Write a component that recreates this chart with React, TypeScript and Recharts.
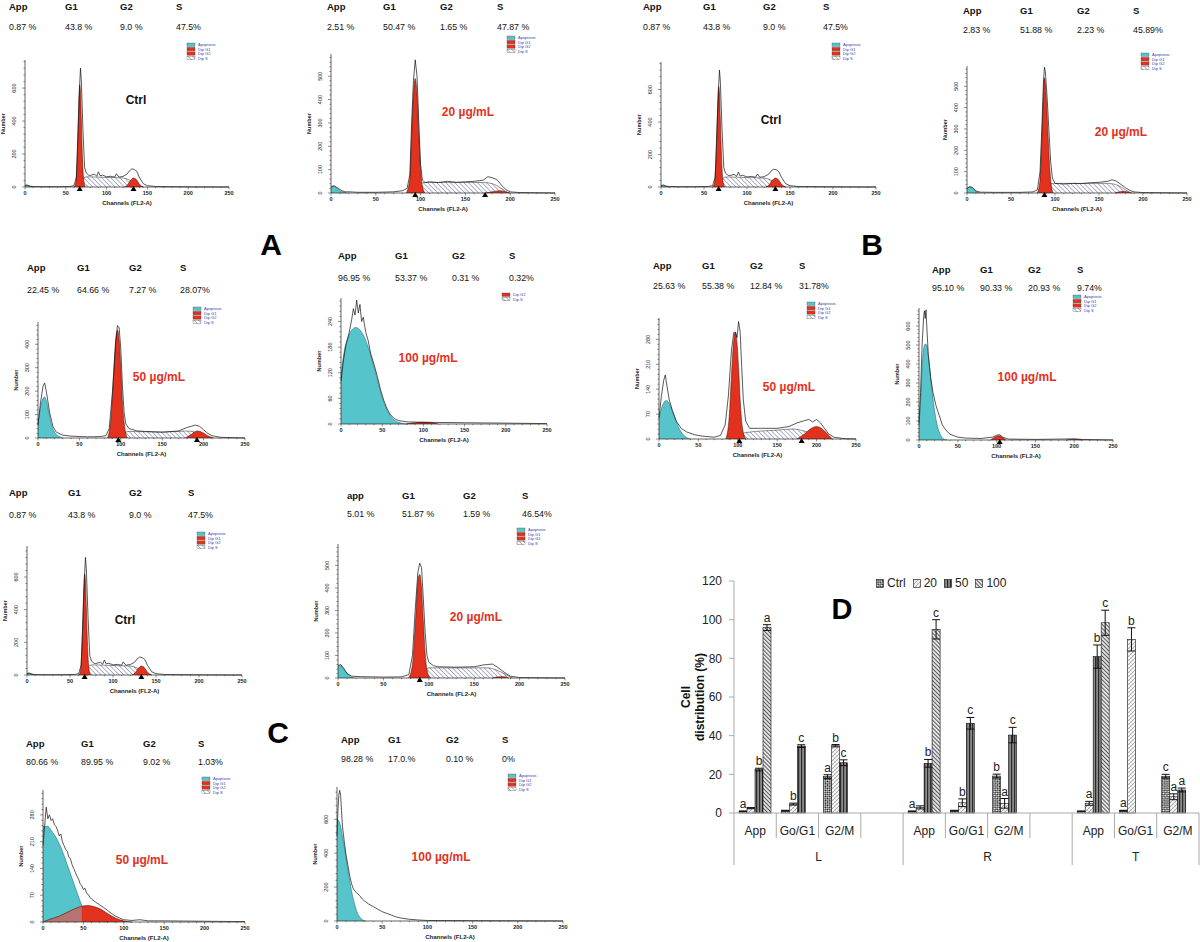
import React from "react";
import {
  ComposedChart,
  Area,
  Line,
  Scatter,
  XAxis,
  YAxis,
  BarChart,
  Bar,
  ErrorBar,
} from "recharts";

type P = [number, number];

const FONT = "'Liberation Sans', Arial, Helvetica, sans-serif";
const CYAN = "#55c4cb";
const RED = "#e2311d";

// ---------- flow cytometry histograms (channel, count) ----------
const ctrlRaw: P[] = [[0, 10], [3, 12], [6, 5], [10, 3], [20, 2], [40, 2], [55, 3], [60, 8], [63, 60], [65, 350], [67, 620], [68, 720], [69, 650], [71, 350], [73, 120], [75, 85], [78, 72], [80, 70], [85, 78], [88, 66], [90, 92], [92, 68], [95, 72], [100, 62], [105, 65], [110, 60], [112, 80], [115, 60], [120, 64], [125, 78], [128, 98], [131, 110], [134, 106], [137, 95], [140, 60], [145, 20], [150, 8], [160, 3], [200, 1], [250, 0]];
const ctrlApop: P[] = [[0, 8], [2, 10], [5, 6], [9, 0]];
const ctrlG1: P[] = [[60, 0], [62, 20], [64, 180], [65, 330], [66, 520], [67, 620], [68, 580], [69, 420], [70, 240], [71, 110], [72, 40], [74, 0]];
const ctrlG2: P[] = [[122, 0], [126, 15], [129, 38], [133, 55], [137, 42], [140, 18], [145, 0]];
const ctrlS: P[] = [[63, 0], [68, 25], [72, 55], [76, 62], [100, 58], [120, 55], [127, 45], [134, 25], [140, 8], [145, 0]];

const a20Raw: P[] = [[0, 28], [4, 30], [8, 20], [12, 10], [16, 5], [20, 5], [25, 4], [30, 3], [50, 3], [70, 5], [80, 10], [85, 20], [88, 80], [90, 300], [92, 480], [94, 570], [96, 500], [98, 300], [100, 120], [102, 55], [105, 45], [110, 48], [120, 45], [130, 50], [140, 46], [150, 48], [160, 50], [170, 55], [175, 70], [180, 65], [185, 58], [190, 35], [195, 15], [200, 5], [210, 2], [250, 0]];
const a20Apop: P[] = [[0, 25], [3, 30], [6, 22], [10, 10], [14, 3], [18, 0]];
const a20G1: P[] = [[84, 0], [88, 60], [90, 250], [92, 420], [94, 490], [96, 420], [98, 250], [100, 100], [102, 30], [105, 0]];
const a20S: P[] = [[88, 0], [95, 20], [100, 40], [105, 45], [170, 45], [180, 40], [190, 20], [198, 0]];
const a20G2: P[] = [[172, 0], [180, 5], [188, 10], [195, 5], [200, 0]];

const a50Raw: P[] = [[0, 55], [3, 150], [6, 220], [8, 235], [10, 200], [14, 110], [18, 50], [22, 25], [30, 12], [40, 8], [60, 5], [75, 6], [82, 10], [86, 40], [90, 200], [94, 420], [96, 480], [98, 470], [100, 380], [102, 220], [104, 110], [106, 60], [110, 40], [120, 30], [130, 28], [150, 25], [170, 30], [180, 45], [190, 55], [195, 50], [200, 35], [205, 20], [210, 10], [220, 3], [250, 0]];
const a50Apop: P[] = [[0, 60], [2, 110], [5, 160], [8, 175], [10, 160], [13, 110], [16, 60], [20, 25], [25, 8], [30, 0]];
const a50G1: P[] = [[84, 0], [88, 80], [91, 250], [94, 420], [96, 460], [98, 420], [100, 300], [102, 150], [105, 40], [108, 0]];
const a50S: P[] = [[88, 0], [100, 15], [110, 28], [150, 25], [180, 30], [195, 18], [205, 0]];
const a50G2: P[] = [[178, 0], [185, 15], [192, 30], [198, 25], [205, 10], [212, 0]];

const a100Raw: P[] = [[0, 100], [3, 150], [6, 185], [10, 215], [13, 245], [15, 270], [17, 255], [19, 290], [21, 260], [23, 280], [25, 240], [27, 250], [30, 215], [33, 195], [36, 165], [40, 140], [44, 112], [48, 80], [52, 55], [56, 35], [60, 22], [65, 12], [70, 8], [80, 5], [100, 4], [150, 3], [200, 2], [250, 1]];
const a100Apop: P[] = [[0, 110], [3, 160], [8, 200], [13, 220], [18, 226], [22, 222], [28, 205], [33, 180], [38, 148], [43, 112], [48, 75], [53, 45], [58, 25], [63, 12], [70, 4], [78, 0]];
const a100G2: P[] = [[78, 0], [90, 3], [100, 4], [110, 3], [118, 0]];

const b20Raw: P[] = [[0, 22], [3, 30], [6, 26], [10, 10], [15, 4], [30, 3], [60, 3], [75, 5], [80, 15], [83, 100], [85, 300], [87, 530], [88, 590], [89, 570], [91, 450], [93, 300], [95, 150], [97, 70], [100, 45], [110, 42], [120, 45], [130, 44], [140, 48], [150, 50], [160, 55], [165, 62], [170, 55], [175, 40], [180, 25], [185, 12], [190, 5], [200, 2], [250, 0]];
const b20Apop: P[] = [[0, 20], [3, 28], [6, 25], [9, 12], [12, 3], [15, 0]];
const b20G1: P[] = [[80, 0], [83, 60], [85, 250], [87, 480], [88, 540], [90, 450], [92, 280], [94, 120], [96, 30], [98, 0]];
const b20S: P[] = [[84, 0], [92, 30], [97, 45], [160, 45], [172, 35], [180, 15], [186, 0]];
const b20G2: P[] = [[168, 0], [174, 6], [178, 8], [183, 4], [188, 0]];

const b50Raw: P[] = [[0, 60], [3, 120], [6, 165], [8, 180], [10, 150], [13, 110], [17, 80], [22, 50], [28, 30], [35, 20], [45, 12], [55, 8], [70, 5], [78, 10], [84, 40], [88, 120], [92, 250], [95, 300], [97, 300], [99, 285], [101, 330], [103, 300], [105, 200], [107, 110], [110, 50], [115, 30], [130, 30], [150, 30], [165, 35], [175, 45], [185, 52], [190, 55], [195, 48], [200, 55], [205, 45], [210, 30], [215, 15], [222, 5], [235, 1], [250, 0]];
const b50Apop: P[] = [[0, 60], [3, 85], [6, 102], [9, 108], [12, 104], [15, 90], [20, 60], [25, 32], [30, 14], [35, 4], [40, 0]];
const b50G1: P[] = [[85, 0], [89, 60], [92, 180], [95, 280], [97, 300], [99, 270], [101, 200], [103, 110], [106, 30], [110, 0]];
const b50S: P[] = [[88, 0], [100, 10], [110, 18], [150, 25], [170, 28], [185, 22], [200, 12], [212, 0]];
const b50G2: P[] = [[175, 0], [185, 15], [192, 28], [200, 35], [206, 30], [212, 18], [220, 0]];

const b100Raw: P[] = [[0, 90], [2, 250], [4, 500], [6, 650], [7, 680], [8, 640], [9, 685], [10, 600], [12, 450], [15, 330], [18, 250], [22, 180], [26, 130], [30, 80], [35, 50], [40, 30], [50, 15], [60, 10], [80, 8], [95, 15], [100, 25], [104, 28], [108, 15], [115, 5], [150, 3], [200, 6], [210, 3], [250, 0]];
const b100Apop: P[] = [[0, 80], [2, 200], [4, 380], [6, 480], [8, 505], [10, 500], [12, 440], [15, 330], [18, 220], [21, 130], [24, 70], [28, 25], [32, 5], [36, 0]];
const b100G1: P[] = [[92, 0], [96, 10], [100, 20], [104, 22], [108, 12], [112, 0]];
const b100G2: P[] = [[190, 0], [200, 4], [210, 0]];

const c20Raw: P[] = [[0, 55], [3, 60], [6, 45], [10, 20], [15, 8], [25, 6], [50, 4], [70, 5], [78, 15], [82, 100], [85, 300], [88, 470], [90, 510], [92, 490], [94, 350], [96, 200], [98, 100], [100, 70], [105, 55], [110, 50], [130, 48], [150, 50], [160, 58], [165, 60], [170, 62], [175, 50], [180, 35], [185, 20], [190, 8], [200, 2], [250, 0]];
const c20Apop: P[] = [[0, 50], [3, 55], [6, 40], [10, 20], [14, 5], [18, 0]];
const c20G1: P[] = [[78, 0], [82, 60], [85, 230], [88, 430], [90, 460], [92, 400], [94, 250], [96, 110], [99, 20], [102, 0]];
const c20S: P[] = [[80, 0], [90, 20], [96, 35], [100, 45], [165, 45], [175, 35], [185, 15], [192, 0]];
const c20G2: P[] = [[170, 0], [176, 5], [182, 6], [188, 0]];

const c50Raw: P[] = [[0, 200], [2, 250], [4, 300], [6, 270], [8, 280], [10, 265], [12, 270], [14, 255], [16, 250], [18, 240], [20, 225], [22, 230], [24, 210], [26, 200], [28, 190], [30, 185], [32, 170], [34, 165], [36, 150], [38, 140], [40, 130], [42, 120], [44, 112], [46, 100], [48, 95], [50, 85], [52, 88], [54, 75], [56, 72], [58, 65], [60, 60], [65, 52], [70, 45], [75, 38], [80, 30], [85, 22], [90, 15], [95, 10], [100, 6], [110, 4], [120, 6], [130, 3], [150, 3], [200, 2], [250, 1]];
const c50Apop: P[] = [[0, 250], [3, 250], [6, 250], [10, 240], [15, 225], [20, 205], [25, 180], [30, 150], [35, 120], [40, 90], [45, 60], [50, 35], [55, 18], [60, 8], [70, 2], [80, 0]];
const c50G1: P[] = [[0, 0], [10, 8], [20, 15], [30, 25], [40, 35], [50, 42], [55, 43], [60, 42], [70, 35], [80, 22], [90, 10], [100, 3], [110, 0]];
const c50G1Under: P[] = [[0, 0], [10, 8], [20, 15], [30, 25], [40, 35], [48, 41]];

const c100Raw: P[] = [[0, 500], [1, 650], [2, 740], [3, 770], [4, 740], [5, 650], [6, 560], [8, 470], [10, 390], [12, 330], [14, 270], [16, 220], [18, 190], [20, 175], [22, 165], [25, 150], [28, 130], [30, 120], [35, 100], [40, 85], [45, 70], [50, 55], [55, 45], [60, 35], [65, 25], [70, 18], [80, 10], [90, 6], [100, 3], [150, 2], [250, 0]];
const c100Apop: P[] = [[0, 600], [2, 590], [4, 560], [6, 500], [8, 440], [10, 370], [12, 300], [14, 240], [16, 180], [18, 130], [20, 90], [22, 55], [25, 25], [28, 8], [32, 0]];

// header labels / values
const hdrLabels = ["App", "G1", "G2", "S"];
const hdrLabelsLower = ["app", "G1", "G2", "S"];
const ctrlPct = ["0.87 %", "43.8 %", "9.0 %", "47.5%"];
const a20Pct = ["2.51 %", "50.47 %", "1.65 %", "47.87 %"];
const a50Pct = ["22.45 %", "64.66 %", "7.27 %", "28.07%"];
const a100Pct = ["96.95 %", "53.37 %", "0.31 %", "0.32%"];
const b20Pct = ["2.83 %", "51.88 %", "2.23 %", "45.89%"];
const b50Pct = ["25.63 %", "55.38 %", "12.84 %", "31.78%"];
const b100Pct = ["95.10 %", "90.33 %", "20.93 %", "9.74%"];
const c20Pct = ["5.01 %", "51.87 %", "1.59 %", "46.54%"];
const c50Pct = ["80.66 %", "89.95 %", "9.02 %", "1.03%"];
const c100Pct = ["98.28 %", "17.0.%", "0.10 %", "0%"];
const legendFull = ["Apoptosis", "Dip G1", "Dip G2", "Dip S"];
const legendShort = ["Dip G2", "Dip S"];

// ---------- bar chart D ----------
const groupNames = ["L", "R", "T"];
const groupSpans = [4, 4, 3];
const subCats = ["App", "Go/G1", "G2/M", "", "App", "Go/G1", "G2/M", "", "App", "Go/G1", "G2/M"];
const ctrlVals = [0.87, 1.2, 18.8, null, 0.87, 1.2, 19.1, null, 0.87, 1.2, 19.0];
const v20Vals = [2.51, 4.6, 34.8, null, 2.9, 5.3, 5.0, null, 5.0, 89.8, 8.4];
const v50Vals = [22.45, 34.6, 26.0, null, 25.7, 46.4, 40.3, null, 80.9, null, 11.9];
const v100Vals = [95.9, null, null, null, 95.0, null, null, null, 98.4, null, null];
const ctrlErr = [0.2, 0.2, 1.0, null, 0.2, 0.2, 1.0, null, 0.2, 0.2, 1.0];
const err20 = [0.3, 0.5, 0.6, null, 0.8, 2.0, 2.5, null, 1.0, 6.0, 1.5];
const err50 = [0.7, 0.7, 1.5, null, 2.0, 3.0, 4.0, null, 6.0, null, 1.0];
const err100 = [1.5, null, null, null, 5.0, null, null, null, 6.5, null, null];
const ctrlLet = ["a", "", "a", "", "a", "", "b", "", "", "a", "c"];
const let20 = ["", "b", "b", "", "", "b", "a", "", "a", "b", "a"];
const let50 = ["b", "c", "c", "", "b", "c", "c", "", "b", "", "a"];
const let100 = ["a", "", "", "", "c", "", "", "", "c", "", ""];
const yTicksD = [0, 20, 40, 60, 80, 100, 120];

const barRows = subCats.map((s, i) => ({
  key: `${i}-${s}`,
  ctrl: ctrlVals[i], c20: v20Vals[i], c50: v50Vals[i], c100: v100Vals[i],
  eCtrl: ctrlErr[i], e20: err20[i], e50: err50[i], e100: err100[i],
  lCtrl: ctrlLet[i], l20: let20[i], l50: let50[i], l100: let100[i],
}));

const toPts = (a?: P[]) => (a || []).map(([x, y]) => ({ x, y }));
const xTicksHist = Array.from({ length: 26 }, (_, i) => i * 10);

interface HistCfg {
  x0: number; x250: number; yBase: number; yTop: number; yMax: number; major: number;
  raw: P[]; apop?: P[]; g1?: P[]; g2?: P[]; s?: P[]; g1Under?: P[]; marks?: number[];
  labels: string[]; pct: string[]; hx: number[]; hy: number; vy: number;
  tag: string; tagColor: string; tx: number; ty: number;
  legend: string[]; lx: number; ly: number;
}

const panels: HistCfg[] = [
  { x0: 25, x250: 229, yBase: 187, yTop: 60, yMax: 770, major: 200, raw: ctrlRaw, apop: ctrlApop, g1: ctrlG1, g2: ctrlG2, s: ctrlS, marks: [67, 133],
    labels: hdrLabels, pct: ctrlPct, hx: [9, 65, 120, 176], hy: 6, vy: 27, tag: "Ctrl", tagColor: "#111", tx: 136, ty: 100, legend: legendFull, lx: 187, ly: 43 },
  { x0: 331, x250: 555, yBase: 193, yTop: 54, yMax: 595, major: 100, raw: a20Raw, apop: a20Apop, g1: a20G1, g2: a20G2, s: a20S, marks: [94, 172],
    labels: hdrLabels, pct: a20Pct, hx: [327, 383, 440, 497], hy: 6, vy: 27, tag: "20 µg/mL", tagColor: RED, tx: 468, ty: 112, legend: legendFull, lx: 507, ly: 36 },
  { x0: 38, x250: 245, yBase: 438, yTop: 322, yMax: 495, major: 100, raw: a50Raw, apop: a50Apop, g1: a50G1, g2: a50G2, s: a50S, marks: [97, 192],
    labels: hdrLabels, pct: a50Pct, hx: [27, 77, 129, 180], hy: 267, vy: 290, tag: "50 µg/mL", tagColor: RED, tx: 159, ty: 377, legend: legendFull, lx: 193, ly: 307 },
  { x0: 341, x250: 547, yBase: 424, yTop: 298, yMax: 295, major: 60, raw: a100Raw, apop: a100Apop, g2: a100G2,
    labels: hdrLabels, pct: a100Pct, hx: [338, 395, 452, 509], hy: 255, vy: 278, tag: "100 µg/mL", tagColor: RED, tx: 428, ty: 358, legend: legendShort, lx: 502, ly: 293 },
  { x0: 661, x250: 876, yBase: 187, yTop: 62, yMax: 770, major: 200, raw: ctrlRaw, apop: ctrlApop, g1: ctrlG1, g2: ctrlG2, s: ctrlS, marks: [67, 133],
    labels: hdrLabels, pct: ctrlPct, hx: [643, 703, 763, 823], hy: 6, vy: 27, tag: "Ctrl", tagColor: "#111", tx: 771, ty: 120, legend: legendFull, lx: 832, ly: 43 },
  { x0: 967, x250: 1187, yBase: 193, yTop: 66, yMax: 595, major: 100, raw: b20Raw, apop: b20Apop, g1: b20G1, g2: b20G2, s: b20S, marks: [88],
    labels: hdrLabels, pct: b20Pct, hx: [963, 1020, 1077, 1133], hy: 10, vy: 30, tag: "20 µg/mL", tagColor: RED, tx: 1121, ty: 132, legend: legendFull, lx: 1141, ly: 53 },
  { x0: 659, x250: 856, yBase: 439, yTop: 318, yMax: 340, major: 70, raw: b50Raw, apop: b50Apop, g1: b50G1, g2: b50G2, s: b50S, marks: [102, 181],
    labels: hdrLabels, pct: b50Pct, hx: [653, 702, 750, 799], hy: 265, vy: 286, tag: "50 µg/mL", tagColor: RED, tx: 789, ty: 387, legend: legendFull, lx: 807, ly: 302 },
  { x0: 919, x250: 1113, yBase: 440, yTop: 308, yMax: 695, major: 100, raw: b100Raw, apop: b100Apop, g1: b100G1, g2: b100G2, marks: [104],
    labels: hdrLabels, pct: b100Pct, hx: [932, 980, 1028, 1077], hy: 269, vy: 288, tag: "100 µg/mL", tagColor: RED, tx: 1027, ty: 377, legend: legendFull, lx: 1073, ly: 295 },
  { x0: 27, x250: 242, yBase: 675, yTop: 546, yMax: 790, major: 200, raw: ctrlRaw, apop: ctrlApop, g1: ctrlG1, g2: ctrlG2, s: ctrlS, marks: [67, 133],
    labels: hdrLabels, pct: ctrlPct, hx: [9, 68, 129, 188], hy: 492, vy: 515, tag: "Ctrl", tagColor: "#111", tx: 125, ty: 620, legend: legendFull, lx: 197, ly: 532 },
  { x0: 338, x250: 565, yBase: 678, yTop: 544, yMax: 595, major: 100, raw: c20Raw, apop: c20Apop, g1: c20G1, g2: c20G2, s: c20S, marks: [90],
    labels: hdrLabelsLower, pct: c20Pct, hx: [347, 402, 463, 522], hy: 495, vy: 514, tag: "20 µg/mL", tagColor: RED, tx: 476, ty: 617, legend: legendFull, lx: 517, ly: 528 },
  { x0: 43, x250: 245, yBase: 922, yTop: 790, yMax: 345, major: 70, raw: c50Raw, apop: c50Apop, g1: c50G1, g1Under: c50G1Under,
    labels: hdrLabels, pct: c50Pct, hx: [26, 81, 143, 198], hy: 743, vy: 762, tag: "50 µg/mL", tagColor: RED, tx: 142, ty: 860, legend: legendFull, lx: 202, ly: 777 },
  { x0: 337, x250: 563, yBase: 921, yTop: 787, yMax: 790, major: 200, raw: c100Raw, apop: c100Apop,
    labels: hdrLabels, pct: c100Pct, hx: [341, 388, 446, 502], hy: 739, vy: 759, tag: "100 µg/mL", tagColor: RED, tx: 441, ty: 857, legend: legendFull, lx: 508, ly: 774 },
];

function XTick(props: any) {
  const { x, y, payload } = props;
  const v = payload.value;
  const major = v % 50 === 0;
  return (
    <g>
      <line x1={x} x2={x} y1={y} y2={y + (major ? 2.5 : 1.2)} stroke="#222" strokeWidth={0.5} />
      {major && (
        <text x={x} y={y + 8} textAnchor="middle" fontSize={5.5} fontWeight={700} fill="#222" fontFamily={FONT}>{v}</text>
      )}
    </g>
  );
}

function YTick(props: any) {
  const { x, y, payload, major } = props;
  const v = payload.value;
  const isMajor = v % major === 0;
  return (
    <g>
      <line x1={x - (isMajor ? 3 : 1.6)} x2={x} y1={y} y2={y} stroke="#222" strokeWidth={0.5} />
      {isMajor && (
        <text x={x - 9} y={y} transform={`rotate(-90 ${x - 9} ${y})`} textAnchor="middle" fontSize={5.5} fill="#222" fontFamily={FONT}>{v}</text>
      )}
    </g>
  );
}

const Tri = (p: any) => <path d={`M${p.cx} ${p.cy - 1} l3 5 h-6 z`} fill="#000" />;

function Hist({ c }: { c: HistCfg }) {
  const W = c.x250 - c.x0 + 20;
  const H = c.yBase - c.yTop + 24;
  const yTicks: number[] = [];
  for (let v = 0; v <= c.yMax; v += c.major / 5) yTicks.push(v);
  return (
    <div style={{ position: "absolute", left: c.x0 - 14, top: c.yTop - 4, width: W, height: H }}>
      <ComposedChart width={W} height={H} margin={{ top: 4, right: 6, left: 0, bottom: 0 }}>
        <XAxis type="number" dataKey="x" domain={[0, 250]} ticks={xTicksHist} interval={0} tick={<XTick />}
          tickLine={false} tickSize={0} tickMargin={0} height={20} axisLine={{ stroke: "#222", strokeWidth: 0.7 }}
          label={{ value: "Channels (FL2-A)", position: "insideBottom", offset: 2, fontSize: 6, fontWeight: 700, fill: "#222", fontFamily: FONT }} />
        <YAxis type="number" dataKey="y" domain={[0, c.yMax]} ticks={yTicks} interval={0} tick={<YTick major={c.major} />}
          tickLine={false} tickSize={0} tickMargin={0} width={14} axisLine={{ stroke: "#222", strokeWidth: 0.7 }} />
        {c.s && <Area data={toPts(c.s)} dataKey="y" type="monotone" fill="url(#hatchS)" fillOpacity={1} stroke="#222" strokeWidth={0.5} isAnimationActive={false} />}
        {c.apop && <Area data={toPts(c.apop)} dataKey="y" type="monotone" fill={CYAN} fillOpacity={1} stroke="#1d5e63" strokeWidth={0.5} isAnimationActive={false} />}
        {c.g1 && <Area data={toPts(c.g1)} dataKey="y" type="monotone" fill={RED} fillOpacity={1} stroke="#3a0a05" strokeWidth={0.5} isAnimationActive={false} />}
        {c.g1Under && <Area data={toPts(c.g1Under)} dataKey="y" type="monotone" fill="#b5746f" fillOpacity={1} stroke="#4a2020" strokeWidth={0.4} isAnimationActive={false} />}
        {c.g2 && <Area data={toPts(c.g2)} dataKey="y" type="monotone" fill={RED} fillOpacity={1} stroke="#3a0a05" strokeWidth={0.5} isAnimationActive={false} />}
        <Line data={toPts(c.raw)} dataKey="y" type="linear" stroke="#111" strokeWidth={0.7} dot={false} isAnimationActive={false} />
        {c.marks && <Scatter data={c.marks.map((m) => ({ x: m, y: 0 }))} dataKey="y" shape={Tri} isAnimationActive={false} />}
      </ComposedChart>
    </div>
  );
}

function HistText({ c }: { c: HistCfg }) {
  const swatch = (name: string) => (name === "Apoptosis" ? CYAN : name === "Dip S" ? "url(#hatchS)" : RED);
  return (
    <g fontFamily={FONT}>
      {c.labels.map((l, i) => (
        <text key={"h" + i} x={c.hx[i]} y={c.hy} dominantBaseline="central" fontSize={9.5} fontWeight={700} fill="#111">{l}</text>
      ))}
      {c.pct.map((v, i) => (
        <text key={"v" + i} x={c.hx[i]} y={c.vy} dominantBaseline="central" fontSize={8.8} fill="#111">{v}</text>
      ))}
      <text x={c.tx} y={c.ty} textAnchor="middle" dominantBaseline="central" fontSize={12} fontWeight={700} fill={c.tagColor}>{c.tag}</text>
      <text x={c.x0 - 20} y={(c.yTop + c.yBase) / 2} transform={`rotate(-90 ${c.x0 - 20} ${(c.yTop + c.yBase) / 2})`} textAnchor="middle" fontSize={5.5} fontWeight={700} fill="#222">Number</text>
      {c.legend.map((n, i) => (
        <g key={"l" + i}>
          <rect x={c.lx} y={c.ly + i * 4.4} width={8} height={3.4} fill={swatch(n)} stroke="#333" strokeWidth={0.3} />
          <text x={c.lx + 11} y={c.ly + i * 4.4 + 1.9} dominantBaseline="central" fontSize={4} fill="#3345a8">{n}</text>
        </g>
      ))}
    </g>
  );
}

// ---------- D ----------
const D_LEFT = 660;
const D_TOP = 575;
const D_W = 540;
const D_H = 295;
const Y_AXIS_W = 74;
const PLOT_W = D_W - Y_AXIS_W - 1;
const BAND = PLOT_W / subCats.length;
const groupStarts = groupSpans.map((_, i) => groupSpans.slice(0, i).reduce((a, b) => a + b, 0));

function CatTick(props: any) {
  const { x, y, payload } = props;
  const i: number = payload?.index ?? props.index;
  const gi = groupStarts.indexOf(i);
  const left = x - BAND / 2;
  return (
    <g fontFamily={FONT}>
      <line x1={left} x2={left} y1={y} y2={y + (gi >= 0 ? 52 : 25)} stroke="#aaa" strokeWidth={1} />
      {i === subCats.length - 1 && <line x1={x + BAND / 2} x2={x + BAND / 2} y1={y} y2={y + 52} stroke="#aaa" strokeWidth={1} />}
      <text x={x} y={y + 22} textAnchor="middle" fontSize={12} fill="#222">{subCats[i]}</text>
      {gi >= 0 && (
        <text x={left + (groupSpans[gi] * BAND) / 2} y={y + 48} textAnchor="middle" fontSize={12} fill="#222">{groupNames[gi]}</text>
      )}
    </g>
  );
}

const series = [
  { key: "ctrl", err: "eCtrl", lab: "lCtrl", name: "Ctrl", fill: "url(#pCtrl)" },
  { key: "c20", err: "e20", lab: "l20", name: "20", fill: "url(#p20)" },
  { key: "c50", err: "e50", lab: "l50", name: "50", fill: "url(#p50)" },
  { key: "c100", err: "e100", lab: "l100", name: "100", fill: "url(#p100)" },
];

// bar rectangle plus its significance letter, placed above the error whisker
const makeShape = (s: (typeof series)[number]) => (props: any) => {
  const { x, y, width, height, payload } = props;
  const val = payload?.[s.key];
  if (val == null || !height || height <= 0) return <g />;
  const pxu = height / val;
  const e = payload[s.err] || 0;
  const letter = payload[s.lab];
  return (
    <g>
      <rect x={x} y={y} width={width} height={height} fill={s.fill} stroke="#111" strokeWidth={0.6} />
      {letter && (
        <text x={x + width / 2} y={y - e * pxu - 3} textAnchor="middle" fontSize={12} fill="#222" fontFamily={FONT}>{letter}</text>
      )}
    </g>
  );
};

function ChartD() {
  return (
    <div style={{ position: "absolute", left: D_LEFT, top: D_TOP, width: D_W, height: D_H }}>
      <BarChart width={D_W} height={D_H} data={barRows} margin={{ top: 6, right: 1, left: 0, bottom: 2 }} barSize={8} barGap={0}>
        <XAxis dataKey="key" interval={0} tick={<CatTick />} tickLine={false} tickSize={0} tickMargin={0} height={55} axisLine={{ stroke: "#aaa" }} />
        <YAxis domain={[0, 120]} ticks={yTicksD} interval={0} width={Y_AXIS_W} tickSize={5} tickMargin={7}
          axisLine={{ stroke: "#aaa" }} tickLine={{ stroke: "#aaa" }} tick={{ fontSize: 12, fill: "#222", fontFamily: FONT }} />
        {series.map((s) => (
          <Bar key={s.key} dataKey={s.key} fill={s.fill} stroke="#111" strokeWidth={0.6} shape={makeShape(s)} isAnimationActive={false}>
            <ErrorBar dataKey={s.err} width={4} stroke="#111" strokeWidth={1} direction="y" />
          </Bar>
        ))}
      </BarChart>
    </div>
  );
}

function LegendD() {
  return (
    <div style={{ position: "absolute", left: 876, top: 576, display: "flex", alignItems: "center", fontFamily: FONT, fontSize: 12, color: "#222" }}>
      {series.map((s) => (
        <div key={s.key} style={{ display: "flex", alignItems: "center", marginRight: 7 }}>
          <svg width={8} height={9} style={{ marginRight: 3 }}>
            <rect x={0.5} y={0.5} width={7} height={8} fill={s.fill} stroke="#111" strokeWidth={0.6} />
          </svg>
          <span>{s.name}</span>
        </div>
      ))}
    </div>
  );
}

export default function App() {
  return (
    <div style={{ position: "absolute", left: 0, top: 0, width: 1200, height: 942, background: "#fff", overflow: "hidden" }}>
      <svg width={0} height={0} style={{ position: "absolute" }}>
        <defs>
          <pattern id="hatchS" width={3.2} height={3.2} patternUnits="userSpaceOnUse" patternTransform="rotate(-45)">
            <rect width={3.2} height={3.2} fill="#fff" />
            <line x1={0} y1={0} x2={0} y2={3.2} stroke="#3a4878" strokeWidth={0.8} />
          </pattern>
          <pattern id="pCtrl" width={3} height={3} patternUnits="userSpaceOnUse" patternTransform="rotate(45)">
            <rect width={3} height={3} fill="#fff" />
            <rect width={1.5} height={1.5} fill="#111" />
            <rect x={1.5} y={1.5} width={1.5} height={1.5} fill="#111" />
          </pattern>
          <pattern id="p20" width={4} height={4} patternUnits="userSpaceOnUse">
            <rect width={4} height={4} fill="#f7f7f7" />
            <path d="M0 1.5 L2 0.5 M2 3.5 L4 2.5" stroke="#666" strokeWidth={0.7} />
          </pattern>
          <pattern id="p50" width={3} height={3} patternUnits="userSpaceOnUse">
            <rect width={3} height={3} fill="#8a8a8a" />
            <line x1={0.6} y1={0} x2={0.6} y2={3} stroke="#2a2a2a" strokeWidth={1.2} />
          </pattern>
          <pattern id="p100" width={2.8} height={2.8} patternUnits="userSpaceOnUse" patternTransform="rotate(-45)">
            <rect width={2.8} height={2.8} fill="#e8e8e8" />
            <line x1={0.5} y1={0} x2={0.5} y2={2.8} stroke="#555" strokeWidth={1} />
          </pattern>
        </defs>
      </svg>

      {panels.map((c, i) => (
        <Hist key={i} c={c} />
      ))}
      <ChartD />
      <LegendD />

      <svg width={1200} height={942} style={{ position: "absolute", left: 0, top: 0, pointerEvents: "none" }}>
        {panels.map((c, i) => (
          <HistText key={i} c={c} />
        ))}
        <g fontFamily={FONT} fontWeight={700} fill="#000" textAnchor="middle">
          <text x={271} y={255} fontSize={30}>A</text>
          <text x={872} y={255} fontSize={30}>B</text>
          <text x={278} y={743} fontSize={30}>C</text>
          <text x={842} y={619} fontSize={29}>D</text>
        </g>
        <g fontFamily={FONT} fontWeight={700} fontSize={12} fill="#111" textAnchor="middle">
          <text x={686} y={697} transform="rotate(-90 686 697)" dominantBaseline="central">Cell</text>
          <text x={700} y={697} transform="rotate(-90 700 697)" dominantBaseline="central">distribution (%)</text>
        </g>
      </svg>
    </div>
  );
}
